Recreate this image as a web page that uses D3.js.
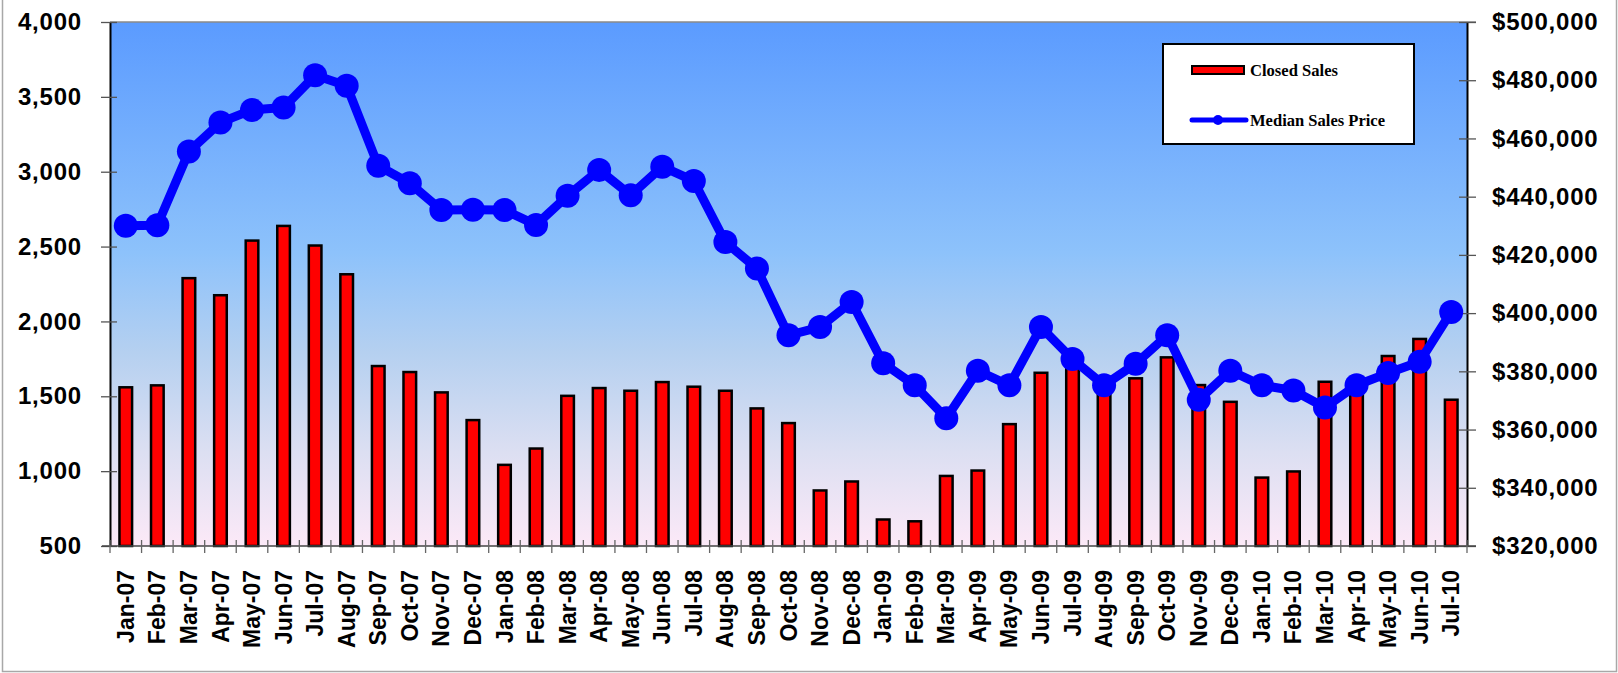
<!DOCTYPE html>
<html>
<head>
<meta charset="utf-8">
<script src="https://cdn.jsdelivr.net/npm/d3@7"></script>
<style>
  body { margin: 0; background: #fff; }
  .axis text { font-family: "Liberation Sans", Arial, sans-serif; font-weight: bold; fill: #000; }
  .legend text { font-family: "Liberation Serif", "Times New Roman", serif; font-weight: bold; font-size: 16.5px; fill: #000; }
</style>
</head>
<body>
<div id="chart"></div>
<script>
var months = ['Jan-07','Feb-07','Mar-07','Apr-07','May-07','Jun-07','Jul-07','Aug-07','Sep-07','Oct-07','Nov-07','Dec-07',
	'Jan-08','Feb-08','Mar-08','Apr-08','May-08','Jun-08','Jul-08','Aug-08','Sep-08','Oct-08','Nov-08','Dec-08',
	'Jan-09','Feb-09','Mar-09','Apr-09','May-09','Jun-09','Jul-09','Aug-09','Sep-09','Oct-09','Nov-09','Dec-09',
	'Jan-10','Feb-10','Mar-10','Apr-10','May-10','Jun-10','Jul-10'];

var closedSales = [1560, 1573, 2289, 2175, 2540, 2638, 2507, 2315, 1702, 1662, 1526, 1341,
	1042, 1151, 1503, 1555, 1537, 1595, 1564, 1537, 1419, 1321, 871, 931,
	677, 665, 968, 1004, 1314, 1657, 1710, 1540, 1620, 1760, 1575, 1463,
	957, 998, 1597, 1580, 1769, 1883, 1477];

var medianPrice = [430000, 430200, 455500, 465500, 469800, 470600, 481700, 478100, 450600, 444600, 435400, 435500,
	435400, 430300, 440300, 449200, 440500, 450300, 445400, 424400, 415300, 392400, 395200, 403800,
	382800, 375200, 363900, 380200, 375200, 395200, 384200, 375200, 382600, 392400, 370200, 380200,
	375200, 373400, 367600, 375200, 379400, 383300, 400400];

var salesTicks = [500, 1000, 1500, 2000, 2500, 3000, 3500, 4000];
var priceTicks = [320000, 340000, 360000, 380000, 400000, 420000, 440000, 460000, 480000, 500000];

var W = 1618, H = 673,
	margin = { top: 22, right: 151, bottom: 127, left: 110 },
	plotW = W - margin.left - margin.right,
	plotH = H - margin.top - margin.bottom;

var svg = d3.select('#chart').append('svg')
	.attr('width', W)
	.attr('height', H);

// outer frame
svg.append('rect')
	.attr('x', 2.5).attr('y', -5)
	.attr('width', 1614).attr('height', 676.5)
	.attr('fill', 'none').attr('stroke', '#a8a8a8').attr('stroke-width', 1.5);

var defs = svg.append('defs');
var grad = defs.append('linearGradient')
	.attr('id', 'bg').attr('x1', 0).attr('y1', 0).attr('x2', 0).attr('y2', 1);
grad.append('stop').attr('offset', '0%').attr('stop-color', '#5b9bff');
grad.append('stop').attr('offset', '44%').attr('stop-color', '#8dc2fb');
grad.append('stop').attr('offset', '63%').attr('stop-color', '#b5d0f0');
grad.append('stop').attr('offset', '82%').attr('stop-color', '#dcdff2');
grad.append('stop').attr('offset', '100%').attr('stop-color', '#fce9f7');

var g = svg.append('g')
	.attr('transform', 'translate(' + margin.left + ',' + margin.top + ')');

var x = d3.scaleBand().domain(months).range([0, plotW]);
var yL = d3.scaleLinear().domain([500, 4000]).range([plotH, 0]);
var yR = d3.scaleLinear().domain([320000, 500000]).range([plotH, 0]);

g.append('rect')
	.attr('width', plotW).attr('height', plotH)
	.attr('fill', 'url(#bg)');

// top border of plot
g.append('line')
	.attr('x1', 0).attr('x2', plotW + 9).attr('y1', 0).attr('y2', 0)
	.attr('stroke', '#8a8a8a').attr('stroke-width', 1.5);

// bars
var barW = x.bandwidth() * 0.4;
g.selectAll('.bar')
	.data(closedSales)
	.enter().append('rect')
	.attr('class', 'bar')
	.attr('x', function(d, i) { return x(months[i]) + (x.bandwidth() - barW) / 2; })
	.attr('y', function(d) { return yL(d); })
	.attr('width', barW)
	.attr('height', function(d) { return plotH - yL(d); })
	.attr('fill', '#ff0000')
	.attr('stroke', '#000')
	.attr('stroke-width', 2.5);

// left axis
var axL = g.append('g').attr('class', 'axis')
	.call(d3.axisLeft(yL).tickValues(salesTicks).tickFormat(d3.format(',')).tickSizeInner(9).tickSizeOuter(0).tickPadding(19));
axL.select('.domain').attr('stroke', '#000').attr('stroke-width', 2);
axL.selectAll('.tick line').attr('x1', 7).attr('stroke', '#555').attr('stroke-width', 1.3);
axL.selectAll('text').style('font-size', '24px').style('letter-spacing', '0.8px');

// right axis
var axR = g.append('g').attr('class', 'axis')
	.attr('transform', 'translate(' + plotW + ',0)')
	.call(d3.axisRight(yR).tickValues(priceTicks).tickFormat(function(d) { return '$' + d3.format(',')(d); }).tickSizeInner(9).tickSizeOuter(0).tickPadding(16));
axR.select('.domain').attr('stroke', '#000').attr('stroke-width', 2);
axR.selectAll('.tick line').attr('x1', -8).attr('stroke', '#555').attr('stroke-width', 1.3);
axR.selectAll('text').style('font-size', '24px').style('letter-spacing', '0.8px');

// bottom axis: line + boundary ticks
g.append('line')
	.attr('x1', -8).attr('x2', plotW + 9).attr('y1', plotH).attr('y2', plotH)
	.attr('stroke', '#444').attr('stroke-width', 1.5);
var bounds = months.map(function(m) { return x(m); }).concat([plotW]);
g.selectAll('.xtick')
	.data(bounds)
	.enter().append('line')
	.attr('class', 'xtick')
	.attr('x1', function(d) { return d; }).attr('x2', function(d) { return d; })
	.attr('y1', plotH - 6).attr('y2', plotH + 7)
	.attr('stroke', '#666').attr('stroke-width', 1.3);

g.append('g').attr('class', 'axis')
	.selectAll('text')
	.data(months)
	.enter().append('text')
	.attr('transform', function(d) { return 'translate(' + (x(d) + x.bandwidth() / 2) + ',' + (plotH + 24) + ') rotate(-90)'; })
	.attr('dy', '0.35em')
	.style('text-anchor', 'end')
	.style('font-size', '23px')
	.text(function(d) { return d; });

// median price line
var line = d3.line()
	.x(function(d, i) { return x(months[i]) + x.bandwidth() / 2; })
	.y(function(d) { return yR(d); });

g.append('path')
	.datum(medianPrice)
	.attr('d', line)
	.attr('fill', 'none')
	.attr('stroke', '#0000ff')
	.attr('stroke-width', 9)
	.attr('stroke-linejoin', 'round');

g.selectAll('.dot')
	.data(medianPrice)
	.enter().append('circle')
	.attr('class', 'dot')
	.attr('cx', function(d, i) { return x(months[i]) + x.bandwidth() / 2; })
	.attr('cy', function(d) { return yR(d); })
	.attr('r', 12)
	.attr('fill', '#0000ff');

// legend
var lg = svg.append('g').attr('class', 'legend');
lg.append('rect')
	.attr('x', 1163).attr('y', 44)
	.attr('width', 251).attr('height', 100)
	.attr('fill', '#fff').attr('stroke', '#000').attr('stroke-width', 2);
lg.append('rect')
	.attr('x', 1192).attr('y', 66)
	.attr('width', 52).attr('height', 8)
	.attr('fill', '#ff0000').attr('stroke', '#000').attr('stroke-width', 2);
lg.append('text').attr('x', 1250).attr('y', 76)
	.attr('textLength', 88).attr('lengthAdjust', 'spacingAndGlyphs')
	.text('Closed Sales');
lg.append('line')
	.attr('x1', 1192).attr('x2', 1246).attr('y1', 120).attr('y2', 120)
	.attr('stroke', '#0000ff').attr('stroke-width', 5).attr('stroke-linecap', 'round');
lg.append('circle').attr('cx', 1218).attr('cy', 120).attr('r', 5).attr('fill', '#0000ff');
lg.append('text').attr('x', 1250).attr('y', 126)
	.attr('textLength', 135).attr('lengthAdjust', 'spacingAndGlyphs')
	.text('Median Sales Price');
</script>
</body>
</html>
